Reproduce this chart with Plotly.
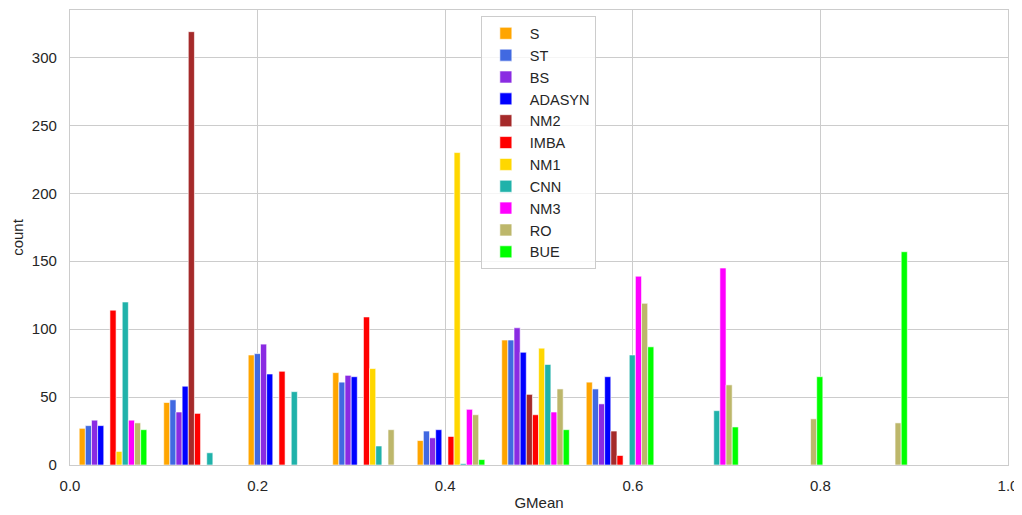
import numpy as np
import plotly.graph_objects as go

# histogram range (GMean) and number of bins
bin_lo = 0.0008
bin_hi = 0.9017
n_bins = 10

methods = ["S", "ST", "BS", "ADASYN", "NM2", "IMBA", "NM1", "CNN", "NM3", "RO", "BUE"]
colors = ["#FFA500", "#4169E1", "#8A2BE2", "#0000FF", "#A52A2A", "#FF0000",
          "#FFD700", "#20B2AA", "#FF00FF", "#BDB76B", "#00FF00"]

# counts per bin for each method
S      = [27, 46, 81, 68, 18, 92, 61, 0, 0, 0]
ST     = [29, 48, 82, 61, 25, 92, 56, 0, 0, 0]
BS     = [33, 39, 89, 66, 20, 101, 45, 0, 0, 0]
ADASYN = [29, 58, 67, 65, 26, 83, 65, 0, 0, 0]
NM2    = [0, 319, 0, 0, 0, 52, 25, 0, 0, 0]
IMBA   = [114, 38, 69, 109, 21, 37, 7, 0, 0, 0]
NM1    = [10, 0, 0, 71, 230, 86, 0, 0, 0, 0]
CNN    = [120, 9, 54, 14, 1, 74, 81, 40, 0, 0]
NM3    = [33, 0, 0, 0, 41, 39, 139, 145, 0, 0]
RO     = [31, 0, 0, 26, 37, 56, 119, 59, 34, 31]
BUE    = [26, 0, 0, 0, 4, 26, 87, 28, 65, 157]

series = [S, ST, BS, ADASYN, NM2, IMBA, NM1, CNN, NM3, RO, BUE]

edges = np.linspace(bin_lo, bin_hi, n_bins + 1)
centers = (edges[:-1] + edges[1:]) / 2

FONT = "Arial, Liberation Sans, sans-serif"
TXT = "#262626"

fig = go.Figure()
for name, col, vals in zip(methods, colors, series):
    fig.add_trace(go.Bar(
        x=centers, y=vals, name=name,
        marker=dict(color=col, line=dict(color="rgba(255,255,255,0.6)", width=1)),
    ))

# the page body adds an 8px offset, so the figure is 8px smaller on each axis
fig.update_layout(
    width=1014, height=507,
    margin=dict(l=62, r=14, t=2, b=50, autoexpand=False),
    paper_bgcolor="white", plot_bgcolor="white",
    barmode="group", bargap=0.2, bargroupgap=0,
    font=dict(family=FONT, size=15, color=TXT),
    legend=dict(
        x=0.438, y=0.986, xanchor="left", yanchor="top",
        bgcolor="rgba(255,255,255,0.8)", bordercolor="#cccccc", borderwidth=1,
        font=dict(family=FONT, size=14.5, color=TXT),
        itemwidth=38, tracegroupgap=0,
    ),
    xaxis=dict(
        range=[0, 1], tickvals=[0, 0.2, 0.4, 0.6, 0.8, 1.0],
        ticktext=["0.0", "0.2", "0.4", "0.6", "0.8", "1.0"],
        showgrid=True, gridcolor="#cccccc", gridwidth=1,
        showline=True, mirror=True, linecolor="#cccccc", linewidth=1.25,
        zeroline=False, ticks="outside", ticklen=7, tickcolor="rgba(0,0,0,0)",
        automargin=False,
        title=dict(text="GMean", font=dict(family=FONT, size=15, color=TXT), standoff=4),
        tickfont=dict(family=FONT, size=15, color=TXT),
    ),
    yaxis=dict(
        range=[0, 334.95], tickvals=[0, 50, 100, 150, 200, 250, 300],
        showgrid=True, gridcolor="#cccccc", gridwidth=1,
        showline=True, mirror=True, linecolor="#cccccc", linewidth=1.25,
        zeroline=False, ticks="outside", ticklen=9, tickcolor="rgba(0,0,0,0)",
        automargin=False,
        title=dict(text="count", font=dict(family=FONT, size=15, color=TXT), standoff=4),
        tickfont=dict(family=FONT, size=15, color=TXT),
    ),
)

fig.write_html("out.html")
